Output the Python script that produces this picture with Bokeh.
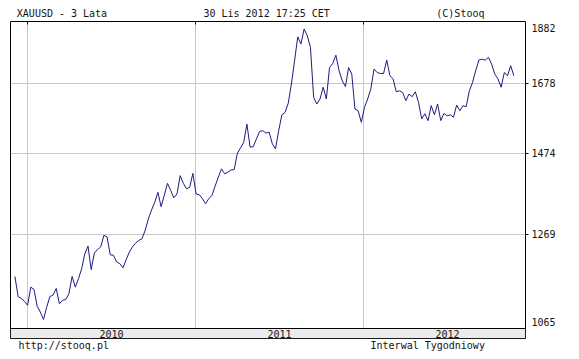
import math
import pandas as pd
from bokeh.plotting import figure
from bokeh.layouts import column
from bokeh.models import Range1d, FixedTicker, BoxAnnotation
from bokeh.core.properties import value
from bokeh.embed import file_html
from bokeh.resources import INLINE

# ---------------- data ----------------
prices = [
    1173, 1130, 1126, 1120, 1112, 1150, 1145, 1110, 1098, 1083,
    1108, 1130, 1133, 1147, 1115, 1122, 1124, 1136, 1173, 1150,
    1168, 1190, 1223, 1241, 1188, 1225, 1233, 1239, 1266, 1262,
    1221, 1220, 1205, 1201, 1192, 1210, 1227, 1239, 1248, 1254,
    1258, 1278, 1305, 1327, 1346, 1371, 1335, 1363, 1394, 1376,
    1357, 1367, 1414, 1394, 1380, 1384, 1420, 1367, 1365, 1355,
    1342, 1355, 1363, 1387, 1410, 1432, 1419, 1423, 1429, 1430,
    1474, 1489, 1504, 1556, 1491, 1492, 1514, 1535, 1537, 1530,
    1533, 1500, 1486, 1537, 1583, 1590, 1617, 1676, 1750,
    1829, 1805, 1856, 1833, 1794, 1635, 1615, 1630, 1666, 1630,
    1728, 1741, 1768, 1718, 1686, 1668, 1728, 1707, 1600, 1595,
    1561, 1605, 1630, 1661, 1723, 1712, 1709, 1709, 1752, 1702,
    1692, 1652, 1655, 1650, 1625, 1645, 1637, 1652, 1620, 1571,
    1586, 1566, 1610, 1583, 1615, 1566, 1587, 1580, 1583, 1576,
    1612, 1595, 1610, 1607, 1655, 1681, 1718, 1752, 1755, 1752,
    1761, 1739, 1707, 1692, 1666, 1712, 1702, 1734, 1702,
]
first_week = "2009-12-04"
last_week = "2012-11-22"
view_start = "2009-11-24 10:00"
view_end = "2012-12-17 07:00"

year_labels = ["2010", "2011", "2012"]
year_starts = ["2010-01-01", "2011-01-01", "2012-01-01"]
year_mids = ["2010-07-02", "2011-07-02", "2012-07-01"]

y_ticks = [1065, 1269, 1474, 1678, 1882]
y_tick_labels = ["1065", "1269", "1474", "1678", "1882"]

title_left = "XAUUSD - 3 Lata"
title_center = "30 Lis 2012 17:25 CET"
title_right = "(C)Stooq"
footer_left = "http://stooq.pl"
footer_right = "Interwal Tygodniowy"

# ---------------- layout ----------------
W = 571
HEAD_H, MAIN_H, FOOT_H = 19, 320, 12
B_LEFT, B_RIGHT, B_TOP, B_BOTTOM = 10, 46, 2, 1
FRAME_H = MAIN_H - B_TOP - B_BOTTOM
BAND_PX = 10
PRICE_PX = FRAME_H - BAND_PX
FONT = "DejaVu Sans Mono"
FS = "10px"
TXT = "#141414"

ymin, ymax = y_ticks[0], y_ticks[-1]
px_per_ln = PRICE_PX / math.log(ymax / ymin)
y_start = ymin * (ymin / ymax) ** (BAND_PX / PRICE_PX)

dates = pd.date_range(first_week, last_week, periods=len(prices))

p = figure(
    width=W, height=MAIN_H,
    x_axis_type="datetime", y_axis_type="log",
    x_range=Range1d(pd.Timestamp(view_start), pd.Timestamp(view_end)),
    y_range=Range1d(y_start, ymax),
    x_axis_location="above", y_axis_location="right",
    output_backend="svg", toolbar_location=None,
    min_border_left=B_LEFT, min_border_right=B_RIGHT,
    min_border_top=B_TOP, min_border_bottom=B_BOTTOM,
    background_fill_color="white", border_fill_color="white",
)
p.outline_line_color = "black"
p.outline_line_width = 1
p.outline_line_alpha = 1

# grid
year_ms = [pd.Timestamp(d).value // 10**6 for d in year_starts]
p.xgrid.ticker = FixedTicker(ticks=year_ms)
p.ygrid.ticker = FixedTicker(ticks=y_ticks[1:-1])
for g in (p.xgrid[0], p.ygrid[0]):
    g.grid_line_color = "#c8c8c8"
    g.grid_line_width = 1

# top x axis: only small year ticks inside the frame
xa = p.xaxis[0]
xa.ticker = FixedTicker(ticks=year_ms)
xa.major_label_overrides = {t: "" for t in year_ms}
xa.major_label_text_font_size = "1px"
xa.major_label_standoff = 0
xa.major_tick_in = 3
xa.major_tick_out = 0
xa.major_tick_line_color = "black"
xa.minor_tick_line_color = None
xa.axis_line_color = None

# right y axis: edge labels nudged inside, small ticks at gridlines
top_lab = round(ymax * math.exp(-6.4 / px_per_ln), 1)
bot_lab = round(ymin * math.exp(6.6 / px_per_ln), 1)
lab_pos = [bot_lab] + y_ticks[1:-1] + [top_lab]
ya = p.yaxis[0]
ya.ticker = FixedTicker(ticks=lab_pos, minor_ticks=y_ticks[1:-1])
ya.major_label_overrides = {v: t for v, t in zip(lab_pos, y_tick_labels)}
ya.major_tick_in = 0
ya.major_tick_out = 0
ya.major_tick_line_color = None
ya.minor_tick_in = 0
ya.minor_tick_out = 3
ya.minor_tick_line_color = "black"
ya.axis_line_color = None
ya.major_label_standoff = 3
ya.major_label_text_font = FONT
ya.major_label_text_font_size = FS
ya.major_label_text_color = TXT

# price line
p.line(dates, prices, line_color="#1c1c80", line_width=1)

# year band
p.add_layout(BoxAnnotation(top=ymin, fill_color="#ebebeb", fill_alpha=1,
                           line_color="black", line_width=1, line_alpha=1))
p.text(x=pd.to_datetime(year_mids), y=[ymin] * len(year_labels), text=year_labels,
       text_font=value(FONT), text_font_size=FS, text_color=TXT,
       text_align="center", text_baseline="middle", y_offset=BAND_PX / 2 + 0.5,
       level="overlay")


# ---------------- header / footer strips (pixel coordinates) ----------------
def strip(h):
    f = figure(width=W, height=h, x_range=Range1d(0, W), y_range=Range1d(0, h),
               x_axis_type=None, y_axis_type=None,
               output_backend="svg", toolbar_location=None, min_border=0,
               background_fill_color="white", border_fill_color="white")
    f.outline_line_color = None
    return f


def put(f, x, middle_from_top, text, align):
    f.text(x=[x], y=[f.height - middle_from_top], text=[text],
           text_font=value(FONT), text_font_size=FS, text_color=TXT,
           text_align=align, text_baseline="middle")


head = strip(HEAD_H)
put(head, 7, 12.6, title_left, "left")
put(head, 284, 12.6, title_center, "center")
put(head, 525.5, 12.6, title_right, "right")

foot = strip(FOOT_H)
put(foot, 9, 6.0, footer_left, "left")
put(foot, 526, 6.0, footer_right, "right")

layout = column(head, p, foot, spacing=0)
open("out.html", "w").write(file_html(layout, INLINE))
